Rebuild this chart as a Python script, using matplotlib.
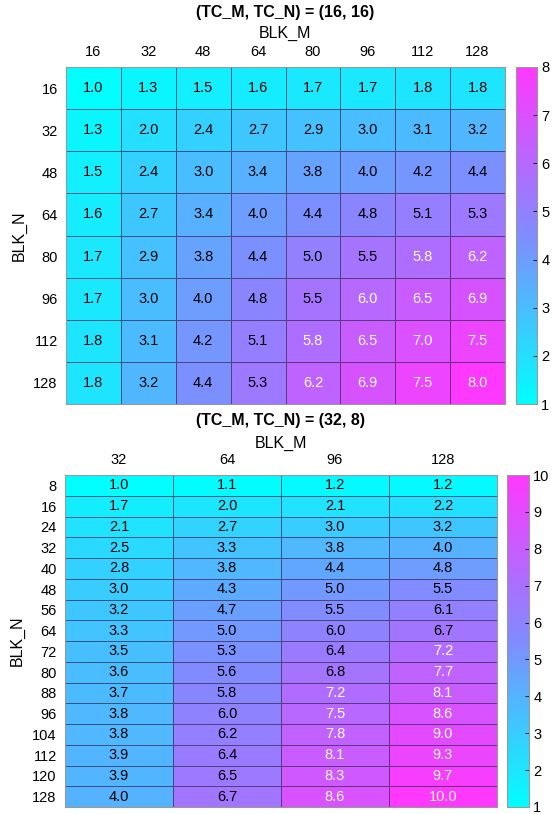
""" Two heatmaps of speed-up for different (TC_M, TC_N) tile shapes. """

import numpy as np
import matplotlib
matplotlib.use('Agg')
import matplotlib.pyplot as plt
from matplotlib.colors import LinearSegmentedColormap

plt.rcParams['font.family'] = ['Liberation Sans', 'DejaVu Sans']

# Top panel: (TC_M, TC_N) = (16, 16)
top_title = '(TC_M, TC_N) = (16, 16)'
top_blk_m = [16, 32, 48, 64, 80, 96, 112, 128]
top_blk_n = [16, 32, 48, 64, 80, 96, 112, 128]
top_vals = [
    [1.0, 1.3, 1.5, 1.6, 1.7, 1.7, 1.8, 1.8],
    [1.3, 2.0, 2.4, 2.7, 2.9, 3.0, 3.1, 3.2],
    [1.5, 2.4, 3.0, 3.4, 3.8, 4.0, 4.2, 4.4],
    [1.6, 2.7, 3.4, 4.0, 4.4, 4.8, 5.1, 5.3],
    [1.7, 2.9, 3.8, 4.4, 5.0, 5.5, 5.8, 6.2],
    [1.7, 3.0, 4.0, 4.8, 5.5, 6.0, 6.5, 6.9],
    [1.8, 3.1, 4.2, 5.1, 5.8, 6.5, 7.0, 7.5],
    [1.8, 3.2, 4.4, 5.3, 6.2, 6.9, 7.5, 8.0],
]

# Bottom panel: (TC_M, TC_N) = (32, 8)
bot_title = '(TC_M, TC_N) = (32, 8)'
bot_blk_m = [32, 64, 96, 128]
bot_blk_n = [8, 16, 24, 32, 40, 48, 56, 64, 72, 80, 88, 96, 104, 112, 120, 128]
bot_vals = [
    [1.0, 1.1, 1.2, 1.2],
    [1.7, 2.0, 2.1, 2.2],
    [2.1, 2.7, 3.0, 3.2],
    [2.5, 3.3, 3.8, 4.0],
    [2.8, 3.8, 4.4, 4.8],
    [3.0, 4.3, 5.0, 5.5],
    [3.2, 4.7, 5.5, 6.1],
    [3.3, 5.0, 6.0, 6.7],
    [3.5, 5.3, 6.4, 7.2],
    [3.6, 5.6, 6.8, 7.7],
    [3.7, 5.8, 7.2, 8.1],
    [3.8, 6.0, 7.5, 8.6],
    [3.8, 6.2, 7.8, 9.0],
    [3.9, 6.4, 8.1, 9.3],
    [3.9, 6.5, 8.3, 9.7],
    [4.0, 6.7, 8.6, 10.0],
]

# cyan -> magenta, a bit softer at the pink end than matplotlib's "cool"
cmap = LinearSegmentedColormap.from_list(
    'soft_cool', [(0.0, '#00ffff'), (0.5, '#808cff'), (1.0, '#ff38ff')])

W, H = 557, 814
fig = plt.figure(figsize=(W / 100, H / 100), dpi=100)


def px_box(x0, y0, x1, y1):
    # pixel box (top-left origin) -> figure fraction rect
    return [x0 / W, 1 - y1 / H, (x1 - x0) / W, (y1 - y0) / H]


def draw_panel(ax, cax, title, cols, rows, vals, title_y, label_y):
    data = np.array(vals)
    vmin, vmax = data.min(), data.max()
    mesh = ax.pcolormesh(data, cmap=cmap, vmin=vmin, vmax=vmax,
                         edgecolors=(0.2, 0.15, 0.3, 0.7), linewidth=0.7)
    ax.set_xlim(0, len(cols))
    ax.set_ylim(len(rows), 0)

    for i in range(len(rows)):
        for j in range(len(cols)):
            v = data[i, j]
            color = 'white' if (v - vmin) / (vmax - vmin) > 0.665 else 'black'
            ax.text(j + 0.5, i + 0.5, f'{v:.1f}', ha='center', va='center',
                    fontsize=10.5, color=color)

    ax.xaxis.tick_top()
    ax.set_xticks(np.arange(len(cols)) + 0.5)
    ax.set_xticklabels([str(c) for c in cols])
    ax.set_yticks(np.arange(len(rows)) + 0.5)
    ax.set_yticklabels([str(r) for r in rows])
    ax.tick_params(length=0, labelsize=10.5, pad=6)
    ax.set_ylabel('BLK_N', fontsize=11.5, labelpad=5)
    for s in ax.spines.values():
        s.set_color('#999999')
        s.set_linewidth(0.8)

    bbox = ax.get_position()
    cx = (bbox.x0 + bbox.x1) / 2
    fig.text(cx, 1 - title_y / H, title, ha='center', va='center',
             fontsize=11.5, fontweight='bold')
    fig.text(cx, 1 - label_y / H, 'BLK_M', ha='center', va='center',
             fontsize=11.5)

    cb = fig.colorbar(mesh, cax=cax)
    cb.set_ticks(np.arange(int(vmin), int(vmax) + 1))
    cb.ax.tick_params(direction='in', length=3, width=0.6, labelsize=10.5, pad=3)
    cb.outline.set_edgecolor('#999999')
    cb.outline.set_linewidth(0.8)


ax1 = fig.add_axes(px_box(66, 67, 505, 404))
cax1 = fig.add_axes(px_box(516, 67, 537, 404))
draw_panel(ax1, cax1, top_title, top_blk_m, top_blk_n, top_vals, 13, 33)

ax2 = fig.add_axes(px_box(65, 475, 497, 807))
cax2 = fig.add_axes(px_box(507, 475, 529, 807))
draw_panel(ax2, cax2, bot_title, bot_blk_m, bot_blk_n, bot_vals, 421, 443)

fig.savefig('out.png', dpi=100)
